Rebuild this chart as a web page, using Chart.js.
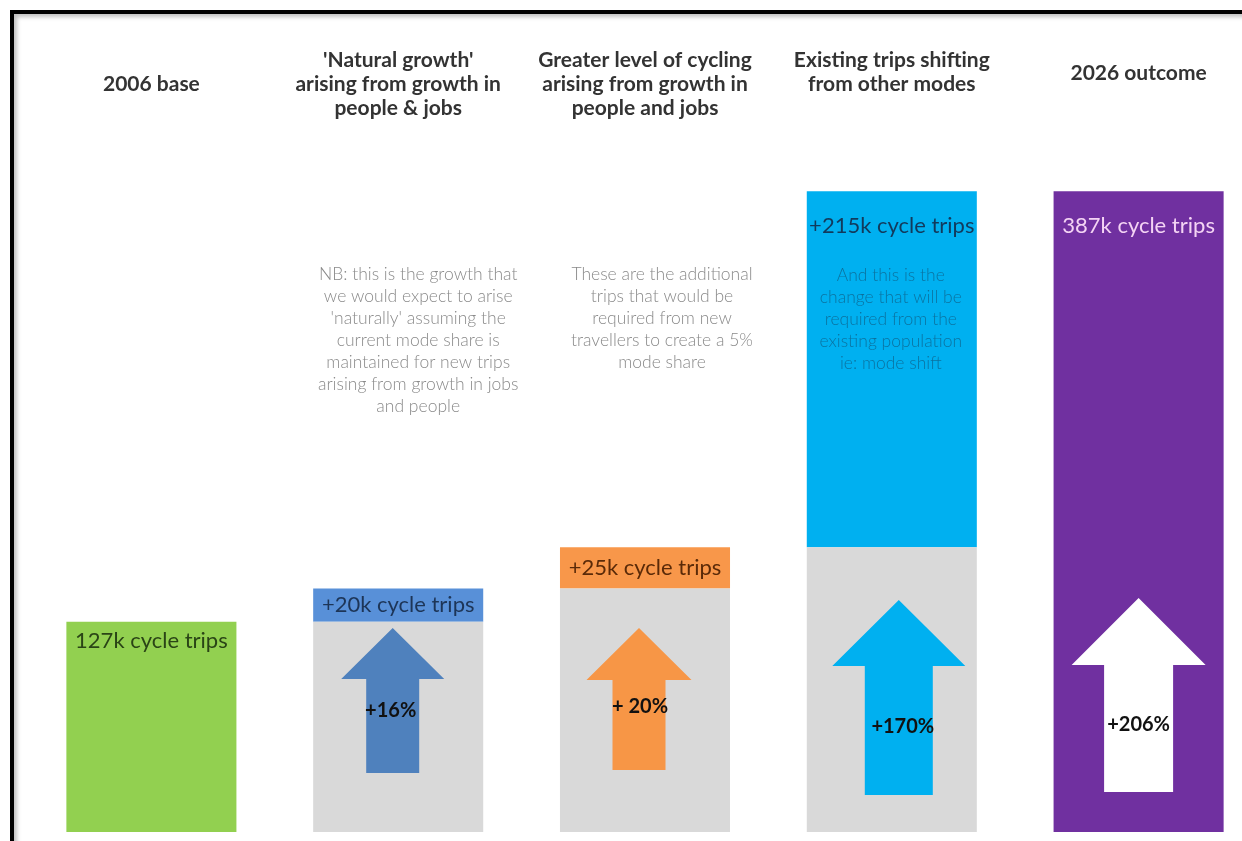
<!DOCTYPE html>
<html>
<head>
<meta charset="utf-8">
<title>Cycle trips 2006-2026</title>
<script src="https://cdn.jsdelivr.net/npm/chart.js@4.4.1/dist/chart.umd.min.js"></script>
<style>
  html, body { margin: 0; padding: 0; background: #fff; overflow: hidden; }
  #frame {
    position: absolute; left: 10px; top: 10px; width: 1300px; height: 900px;
    border-left: 4px solid #000; border-top: 4px solid #000;
    box-shadow: inset 3px 3px 4px rgba(0, 0, 0, 0.25);
  }
  #chart { position: absolute; left: 0; top: 0; }
</style>
</head>
<body>
<div id="frame"></div>
<canvas id="chart" width="1265" height="841"></canvas>
<script>
const categories = [
  ['2006 base'],
  ["'Natural growth'", 'arising from growth in', 'people & jobs'],
  ['Greater level of cycling', 'arising from growth in', 'people and jobs'],
  ['Existing trips shifting', 'from other modes'],
  ['2026 outcome']
];
const baseTrips = 127;              // thousand daily cycle trips in 2006
const stepTrips = [20, 25, 215];    // added by each driver, thousands
const growthLabels = ['+16%', '+ 20%', '+170%', '+206%'];
const noteLines = [
  [],
  ['NB: this is the growth that', 'we would expect to arise', "'naturally' assuming the",
   'current mode share is', 'maintained for new trips', 'arising from growth in jobs', 'and people'],
  ['These are the additional', 'trips that would be', 'required from new',
   'travellers to create a 5%', 'mode share'],
  ['And this is the', 'change that will be', 'required from the',
   'existing population', 'ie: mode shift'],
  []
];

const totalTrips = baseTrips + stepTrips.reduce((a, b) => a + b, 0);

// floating bars: full columns for the ends, grey "already there" columns under each step
const levels = [baseTrips];
stepTrips.forEach(s => levels.push(levels[levels.length - 1] + s));
const baseData = [[0, baseTrips], [0, levels[0]], [0, levels[1]], [0, levels[2]], [0, totalTrips]];
const stepData = [null, [levels[0], levels[1]], [levels[1], levels[2]], [levels[2], levels[3]], null];

const tripLabels = [
  `${baseTrips}k cycle trips`,
  ...stepTrips.map(s => `+${s}k cycle trips`),
  `${totalTrips}k cycle trips`
];

const COLORS = {
  base: ['#92d050', '#d9d9d9', '#d9d9d9', '#d9d9d9', '#7030a0'],
  step: [null, '#5890d8', '#f8974a', '#00b0f0', null],
  arrow: [null, '#4f81bd', '#f79646', '#00b0f0', '#ffffff'],
  label: ['#2a4416', '#1d3557', '#5a2a08', '#123a5c', '#f4d4f4'],
  note: ['#8a8a8a', '#8a8a8a', '#8a8a8a', 'rgba(20, 60, 90, 0.55)', '#8a8a8a']
};

// label placement: 'mid' = centre of the coloured step, number = px below bar top
const labelPlace = [19, 'mid', 'mid', 35, 35];

// arrow shapes, px measured up from the axis floor
const arrowShape = [
  null,
  { dx: -5.5, head: 51.5, shaft: 26.5, tip: 204, neck: 153, tail: 59, text: 121, tdx: -2 },
  { dx: -6, head: 52.5, shaft: 26.5, tip: 204, neck: 152, tail: 62, text: 125, tdx: 1 },
  { dx: 7, head: 66.5, shaft: 34, tip: 232, neck: 166, tail: 37, text: 105, tdx: 4 },
  { dx: 0, head: 67, shaft: 34.5, tip: 234, neck: 167, tail: 40, text: 107, tdx: 0 }
];
const notePlace = [null, { dx: 20, y: 274 }, { dx: 17, y: 274 }, { dx: -1, y: 275 }, null];
const headerLineHeight = [72, 24, 24, 24, 50];

const overlay = {
  id: 'overlay',
  afterDatasetsDraw(chart) {
    const ctx = chart.ctx;
    const floor = chart.chartArea.bottom;
    const baseMeta = chart.getDatasetMeta(0).data;
    const stepMeta = chart.getDatasetMeta(1).data;

    ctx.save();
    ctx.textAlign = 'center';
    ctx.textBaseline = 'middle';

    // arrows with their growth percentages
    arrowShape.forEach((a, i) => {
      if (!a) return;
      const cx = baseMeta[i].x + a.dx;
      ctx.beginPath();
      ctx.moveTo(cx, floor - a.tip);
      ctx.lineTo(cx + a.head, floor - a.neck);
      ctx.lineTo(cx + a.shaft, floor - a.neck);
      ctx.lineTo(cx + a.shaft, floor - a.tail);
      ctx.lineTo(cx - a.shaft, floor - a.tail);
      ctx.lineTo(cx - a.shaft, floor - a.neck);
      ctx.lineTo(cx - a.head, floor - a.neck);
      ctx.closePath();
      ctx.fillStyle = COLORS.arrow[i];
      ctx.fill();

      ctx.font = 'bold 20px Lato';
      ctx.fillStyle = '#111';
      ctx.fillText(growthLabels[i - 1], cx + a.tdx, floor - a.text);
    });

    // trip counts
    ctx.font = '22px Lato';
    tripLabels.forEach((t, i) => {
      const bar = stepData[i] ? stepMeta[i] : baseMeta[i];
      const y = labelPlace[i] === 'mid'
        ? (bar.y + bar.base) / 2
        : Math.min(bar.y, bar.base) + labelPlace[i];
      ctx.fillStyle = COLORS.label[i];
      ctx.fillText(t, bar.x, y);
    });

    // explanatory notes
    ctx.font = '300 17.5px Lato';
    noteLines.forEach((lines, i) => {
      if (!lines.length) return;
      const p = notePlace[i];
      ctx.fillStyle = COLORS.note[i];
      lines.forEach((ln, k) => ctx.fillText(ln, baseMeta[i].x + p.dx, p.y + k * 22));
    });
    ctx.restore();
  }
};

new Chart(document.getElementById('chart'), {
  type: 'bar',
  data: {
    labels: categories,
    datasets: [
      { data: baseData, backgroundColor: COLORS.base, grouped: false },
      { data: stepData, backgroundColor: COLORS.step, grouped: false }
    ]
  },
  options: {
    responsive: false,
    animation: false,
    layout: { padding: { left: 28, right: 3, top: 48, bottom: 9 } },
    categoryPercentage: 1,
    barPercentage: 0.689,
    plugins: { legend: { display: false }, tooltip: { enabled: false } },
    scales: {
      x: {
        position: 'top',
        grid: { display: false, drawTicks: false },
        border: { display: false },
        ticks: {
          autoSkip: false,
          maxRotation: 0,
          padding: 0,
          crossAlign: 'far',
          color: '#333',
          font: ctx => ({ family: 'Lato', weight: 'bold', size: 21, lineHeight: headerLineHeight[ctx.index] + 'px' })
        }
      },
      y: {
        display: false,
        min: 0,
        max: 430
      }
    }
  },
  plugins: [overlay]
});
</script>
</body>
</html>
